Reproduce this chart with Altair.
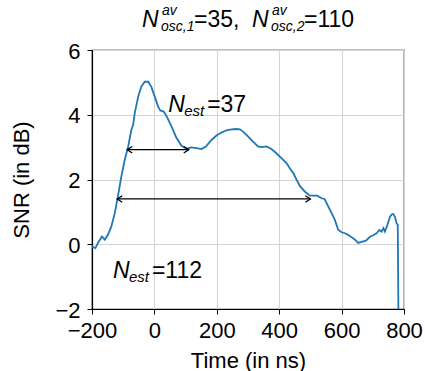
import altair as alt
import pandas as pd

FONT = "Liberation Sans"

# ---- data ----
time_ns = [-200, -189, -181, -168, -159, -149, -138, -127, -117, -106, -95, -84, -74, -68,
           -63, -52, -42, -31, -20, -10, 1, 12, 19, 30, 41, 55, 71, 87, 103, 119, 135,
           151, 165, 183, 199, 215, 231, 247, 263, 274, 284, 300, 316, 332, 343, 359,
           375, 391, 407, 424, 434, 445, 456, 466, 482, 498, 509, 522, 536, 546, 557,
           568, 578, 589, 600, 611, 621, 632, 643, 653, 664, 678, 691, 701, 712, 721,
           728, 734, 739, 747, 755, 762, 766, 771, 776, 780, 782]
snr_db = [-0.07, -0.12, 0.04, 0.24, 0.14, 0.29, 0.55, 0.96, 1.48, 2.09, 2.61, 3.02, 3.53, 3.69,
          4.05, 4.56, 4.87, 5.02, 5.02, 4.87, 4.56, 4.25, 4.13, 4.10, 3.92, 3.63, 3.28, 3.04,
          2.95, 2.99, 2.97, 2.94, 3.02, 3.22, 3.36, 3.45, 3.52, 3.55, 3.56, 3.55, 3.48, 3.33,
          3.17, 3.02, 3.00, 3.02, 2.94, 2.81, 2.66, 2.50, 2.35, 2.20, 1.99, 1.80, 1.63, 1.50,
          1.50, 1.50, 1.42, 1.39, 1.17, 0.96, 0.76, 0.45, 0.37, 0.34, 0.29, 0.22, 0.14, 0.04,
          0.07, 0.11, 0.23, 0.28, 0.34, 0.44, 0.39, 0.50, 0.39, 0.60, 0.85, 0.93, 0.93, 0.85,
          0.65, 0.60, -2.0]

arrow_start = [-87, -119]
arrow_end = [110, 500]
arrow_level = [2.92, 1.40]

ann_time = [44, -133]
ann_snr = [4.09, -1.04]
ann_value = ["=37", "=112"]

x_ticks = [-200, 0, 200, 400, 600, 800]
y_ticks = [-2, 0, 2, 4, 6]

W, H = 312, 259

curve_df = pd.DataFrame({"time": time_ns, "snr": snr_db})
arrow_df = pd.DataFrame({"x1": arrow_start, "x2": arrow_end, "y": arrow_level})
ann_df = pd.DataFrame({"time": ann_time, "snr": ann_snr, "val": ann_value})

xscale = alt.Scale(domain=[-200, 800], nice=False, zero=False)
yscale = alt.Scale(domain=[-2, 6], nice=False, zero=False)

xaxis = alt.Axis(values=x_ticks, title="Time (in ns)", grid=True, labelFlush=False,
                 labelOverlap=False, tickSize=5, labelPadding=6,
                 titleX=W / 2, titleY=58, titleBaseline="alphabetic", titleAnchor="middle")
yaxis = alt.Axis(values=y_ticks, title="SNR (in dB)", grid=True, labelFlush=False,
                 labelOverlap=False, tickSize=5, labelPadding=7, labelOffset=1,
                 titleX=-64, titleY=H / 2, titleBaseline="alphabetic", titleAnchor="middle")

line = alt.Chart(curve_df).mark_line(color="#1f77b4", strokeWidth=1.8, clip=True).encode(
    x=alt.X("time:Q", scale=xscale, axis=xaxis),
    y=alt.Y("snr:Q", scale=yscale, axis=yaxis),
)

shaft = alt.Chart(arrow_df).mark_rule(color="black", strokeWidth=1.3).encode(
    x=alt.X("x1:Q", scale=xscale), x2="x2:Q", y=alt.Y("y:Q", scale=yscale)
)
head_l = alt.Chart(arrow_df).mark_point(
    shape="M 2 -1.3 L 0 0 L 2 1.3", size=25, filled=False, color="black",
    strokeWidth=1.3, opacity=1).encode(x=alt.X("x1:Q", scale=xscale), y=alt.Y("y:Q", scale=yscale))
head_r = alt.Chart(arrow_df).mark_point(
    shape="M -2 -1.3 L 0 0 L -2 1.3", size=25, filled=False, color="black",
    strokeWidth=1.3, opacity=1).encode(x=alt.X("x2:Q", scale=xscale), y=alt.Y("y:Q", scale=yscale))


def ann_piece(field_text, dx, dy, size, italic):
    return alt.Chart(ann_df).mark_text(
        align="left", baseline="alphabetic", font=FONT, fontSize=size,
        fontStyle="italic" if italic else "normal", color="black", dx=dx, dy=dy,
        **({"text": field_text} if field_text is not None else {})
    ).encode(
        x=alt.X("time:Q", scale=xscale), y=alt.Y("snr:Q", scale=yscale),
        **({} if field_text is not None else {"text": "val:N"})
    )


ann_N = ann_piece("N", 0, 0, 23, True)
ann_est = ann_piece("est", 16, 4, 15, True)
ann_val = ann_piece(None, 39, 0, 23, False)


def title_piece(text, x, y, size, italic):
    return alt.Chart(pd.DataFrame({"t": [text]})).mark_text(
        align="left", baseline="alphabetic", font=FONT, fontSize=size,
        fontStyle="italic" if italic else "normal", color="black"
    ).encode(x=alt.value(x), y=alt.value(y), text="t:N")


title_layers = [
    title_piece("N", 50, -23, 23, True),
    title_piece("av", 70, -35, 14, True),
    title_piece("osc,1", 69, -19, 14, True),
    title_piece("=35,", 102, -23, 23, False),
    title_piece("N", 160, -23, 23, True),
    title_piece("av", 180, -35, 14, True),
    title_piece("osc,2", 179, -19, 14, True),
    title_piece("=110", 212, -23, 23, False),
]

chart = alt.layer(line, shaft, head_l, head_r, ann_N, ann_est, ann_val, *title_layers).properties(
    width=W, height=H,
    background="white",
    autosize=alt.AutoSizeParams(type="none"),
    padding={"left": 92, "top": 50, "right": 21, "bottom": 62},
).configure_view(stroke="black", strokeWidth=1.2).configure_axis(
    labelFont=FONT, titleFont=FONT, labelFontSize=22, titleFontSize=22,
    labelColor="black", titleColor="black", titleFontWeight="normal",
    domainColor="black", tickColor="black", gridColor="#d4d4d4", gridWidth=1,
    domainWidth=1.2, tickWidth=1,
)

chart.save("out.html", embed_options={"renderer": "svg", "actions": False})
